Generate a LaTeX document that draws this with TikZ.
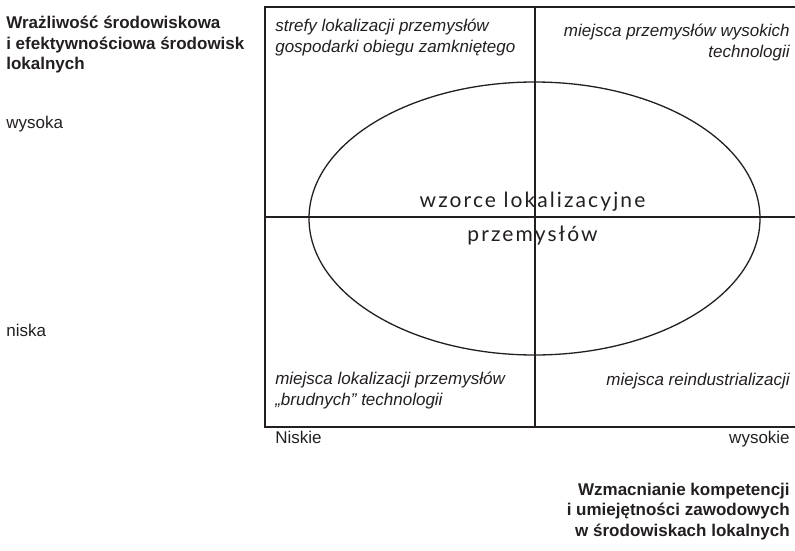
\documentclass[tikz,border=0pt]{standalone}
\usepackage{fontspec}
\setmainfont{Liberation Sans}
\newfontfamily\wzorfont[LetterSpace=10]{Lato}
\usetikzlibrary{arrows,positioning}
\definecolor{ciemny}{HTML}{231F20}

\begin{document}
\begin{tikzpicture}[x=1pt,y=-1pt,semithick,
                    every node/.style={inner sep=0pt,text=ciemny}]
  \tikzstyle{opis}=[font=\fontsize{17}{21}\selectfont]
  \tikzstyle{pole}=[font=\fontsize{17}{21}\selectfont\itshape]
  \tikzstyle{tytul}=[font=\fontsize{17}{20.5}\selectfont\bfseries]
  \tikzstyle{wzor}=[font=\wzorfont\fontsize{21}{34}\selectfont]
  \tikzstyle{linia}=[draw=ciemny,line width=2pt]

  \useasboundingbox (0,0) rectangle (795,551);

  \coordinate (lg) at (265,7);
  \coordinate (pd) at (800,427);
  \coordinate (sg) at (535,7);
  \coordinate (sd) at (535,427);
  \coordinate (sl) at (265,217);
  \coordinate (sp) at (800,217);
  \coordinate (srodek) at (534.5,218.5);

  \draw[linia] (lg) rectangle (pd);
  \draw[linia] (sg) -- (sd);
  \draw[linia] (sl) -- (sp);
  \draw[ciemny,line width=1.3pt] (srodek) ellipse [x radius=225.5pt,y radius=136.5pt];

  \node[tytul,align=left,anchor=base west] (wrazliwosc) at (6,70)
       {Wrażliwość środowiskowa\\i efektywnościowa środowisk\\lokalnych};
  \node[opis,anchor=base west] (wysoka) at (6,128) {wysoka};
  \node[opis,anchor=base west] (niska)  at (6,336) {niska};

  \node[pole,align=left,anchor=base west] (strefy) at (275,53)
       {strefy lokalizacji przemysłów\\gospodarki obiegu zamkniętego};
  \node[pole,align=right,anchor=base east] (wysokich) at (790,58)
       {miejsca przemysłów wysokich\\technologii};
  \node[pole,align=left,anchor=base west] (brudnych) at (275,405)
       {miejsca lokalizacji przemysłów\\„brudnych” technologii};
  \node[pole,anchor=base east] (reind) at (790,385) {miejsca reindustrializacji};

  \node[wzor,anchor=base] (wzorce) at (532.5,207) {wzorce lokalizacyjne};
  \node[wzor] (przemyslow) [below=34pt of wzorce.base,anchor=base] {przemysłów};

  \node[opis,anchor=base west] (niskie)  at (275,443) {Niskie};
  \node[opis,anchor=base east] (wysokie) at (790,443) {wysokie};
  \node[tytul,align=right,anchor=base east] (wzmacnianie) at (790,536)
       {Wzmacnianie kompetencji\\i umiejętności zawodowych\\w środowiskach lokalnych};
\end{tikzpicture}
\end{document}
